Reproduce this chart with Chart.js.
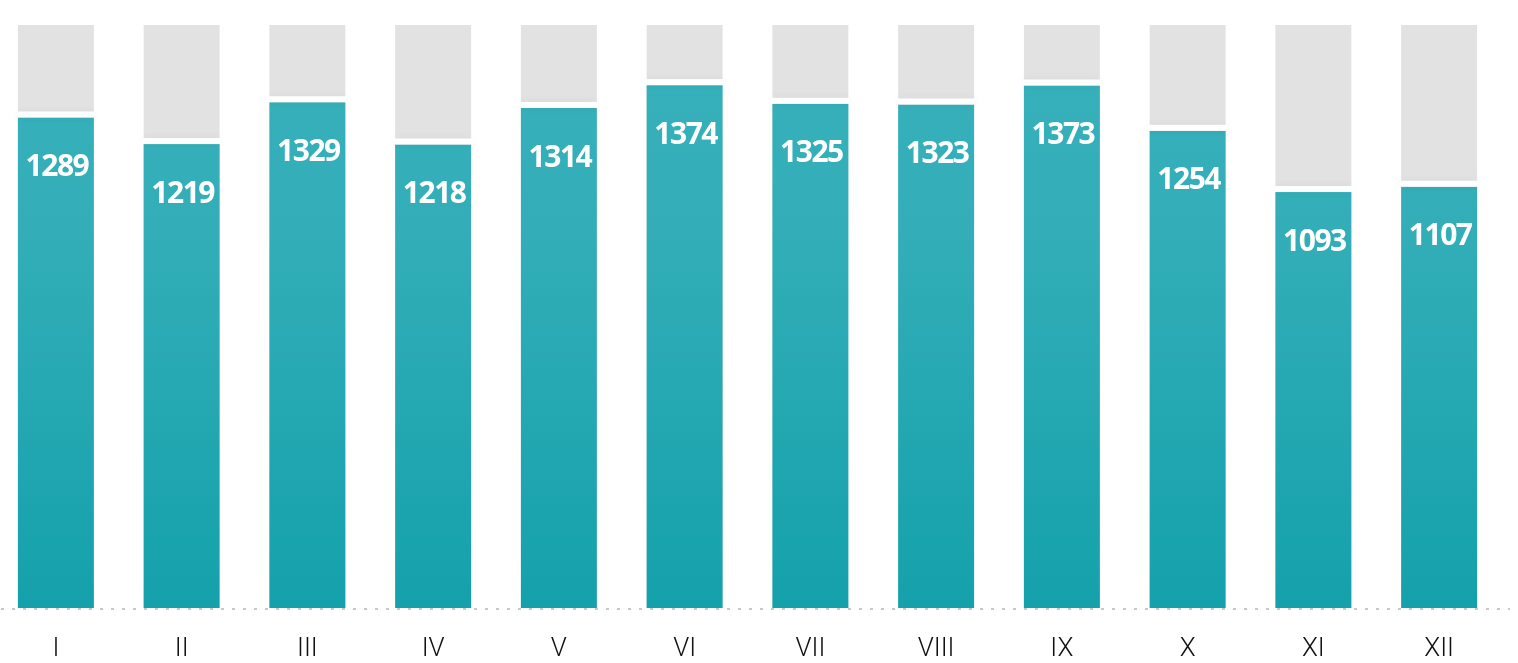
<!DOCTYPE html>
<html><head><meta charset="utf-8">
<script src="https://cdn.jsdelivr.net/npm/chart.js@4"></script>
<style>
html,body{margin:0;padding:0;background:#fff;overflow:hidden;width:1518px;height:663px}
#wrap{position:absolute;left:-7px;top:0;width:1525px;height:663px}
</style></head><body>
<div id="wrap"><canvas id="c"></canvas></div>
<script>
const months = ['I','II','III','IV','V','VI','VII','VIII','IX','X','XI','XII'];
const values = [1289,1219,1329,1218,1314,1374,1325,1323,1373,1254,1093,1107];
const capacity = [1532,1532,1532,1532,1532,1532,1532,1532,1532,1532,1532,1532];

const deco = {
  id:'deco',
  beforeDatasetsDraw(chart){
    const ctx = chart.ctx;
    const y = chart.scales.y.getPixelForValue(0);
    ctx.save();
    ctx.strokeStyle = '#c8c8c8';
    ctx.lineWidth = 2;
    ctx.setLineDash([3,8]);
    ctx.beginPath();
    ctx.moveTo(8, y+1);
    ctx.lineTo(1517, y+1);
    ctx.stroke();
    ctx.restore();
  },
  afterDatasetsDraw(chart){
    const ctx = chart.ctx;
    const meta = chart.getDatasetMeta(0);
    ctx.save();
    meta.data.forEach((bar,i)=>{
      const w = bar.width;
      ctx.save();
      ctx.shadowColor = 'rgba(0,0,0,0.05)';
      ctx.shadowBlur = 8;
      ctx.fillStyle = '#ffffff';
      ctx.fillRect(bar.x - w/2 - 1, bar.y - 6, w + 2, 6);
      ctx.restore();
      ctx.fillStyle = '#ffffff';
      ctx.font = 'bold 30px "Open Sans"';
      try { ctx.letterSpacing = '-1.5px'; } catch(e) {}
      ctx.textAlign = 'center';
      ctx.textBaseline = 'middle';
      ctx.fillText(String(values[i]), bar.x + 1, bar.y + 50);
    });
    ctx.restore();
  }
};

const ctx = document.getElementById('c').getContext('2d');
new Chart(ctx, {
  type:'bar',
  data:{
    labels: months,
    datasets:[
      {
        data: values,
        backgroundColor: (c)=>{
          const ch = c.chart; const a = ch.chartArea;
          if(!a) return '#22a7b1';
          const g = ch.ctx.createLinearGradient(0, a.top, 0, a.bottom);
          g.addColorStop(0, '#37b0ba');
          g.addColorStop(0.35, '#33aeb8');
          g.addColorStop(1, '#14a1ab');
          return g;
        },
        borderWidth:0,
        barPercentage:0.604,
        categoryPercentage:1
      },
      {
        data: capacity,
        backgroundColor:'#e2e2e2',
        borderWidth:0,
        barPercentage:0.604,
        categoryPercentage:1
      }
    ]
  },
  options:{
    responsive:true,
    maintainAspectRatio:false,
    animation:false,
    layout:{padding:{top:25,right:16,left:0,bottom:0}},
    plugins:{legend:{display:false},tooltip:{enabled:false}},
    scales:{
      x:{
        stacked:true,
        grid:{display:false,drawTicks:false},
        border:{display:false},
        ticks:{color:'#111',font:{family:'Roboto',size:26,weight:300},padding:26,maxRotation:0},
        afterFit(scale){ scale.height = 55; }
      },
      y:{
        stacked:false,
        display:false,
        min:0,max:1532
      }
    }
  },
  plugins:[deco]
});
</script>
</body></html>
